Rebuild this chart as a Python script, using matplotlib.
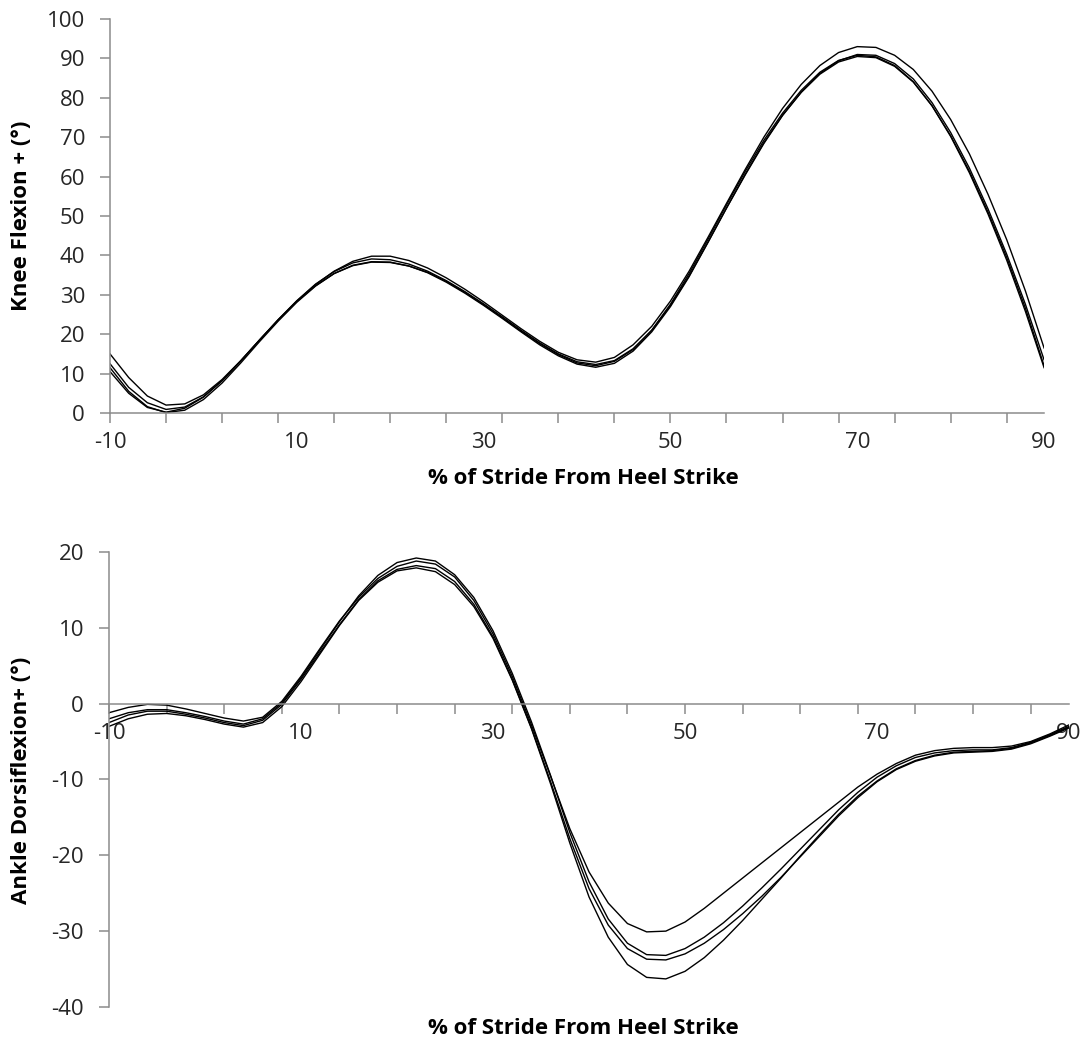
import numpy as np
import matplotlib
matplotlib.use("Agg")
import matplotlib.pyplot as plt

plt.rcParams['font.family'] = ['Open Sans', 'DejaVu Sans']
plt.rcParams['axes.unicode_minus'] = False

# % of stride, sampled every 2 %
stride = list(range(-10, 91, 2))

# knee flexion (deg), four trials
knee_1 = [15, 9, 4.3, 2.0, 2.3, 4.6, 8.5, 13.3, 18.5, 23.6, 28.4, 32.6, 36, 38.5, 39.8, 39.8, 38.7, 36.8, 34.3,
          31.4, 28.2, 24.8, 21.4, 18.2, 15.4, 13.5, 12.9, 14.1, 17.3, 22, 28.4, 36, 44.5, 53.2, 61.8, 70, 77.3,
          83.4, 88.2, 91.5, 93, 92.8, 90.8, 87.2, 81.7, 74.5, 65.8, 55.5, 44, 31, 16.5]
knee_2 = [12.5, 6.5, 2.6, 0.9, 1.5, 4.1, 8.2, 13.2, 18.5, 23.7, 28.5, 32.7, 35.9, 38.1, 39.1, 38.9, 37.8, 36,
          33.6, 30.8, 27.7, 24.4, 21, 17.8, 15, 13, 12.3, 13.3, 16.3, 21, 27.3, 34.8, 43.3, 52, 60.4, 68.4,
          75.5, 81.4, 86.2, 89.4, 91, 90.8, 88.7, 84.8, 78.8, 71.2, 62.2, 51.8, 40.3, 27.6, 13.5]
knee_3 = [11.5, 5.5, 1.6, 0.1, 0.7, 3.4, 7.6, 12.7, 18.1, 23.3, 28.1, 32.2, 35.4, 37.5, 38.4, 38.3, 37.3, 35.6,
          33.2, 30.4, 27.3, 24, 20.6, 17.3, 14.5, 12.4, 11.6, 12.6, 15.7, 20.6, 27, 34.6, 43.2, 52, 60.6, 68.6,
          75.6, 81.4, 86, 89.1, 90.5, 90.2, 88, 84, 78, 70.4, 61.4, 51, 39.5, 26.6, 12]
knee_4 = [10.5, 5, 1.4, 0.2, 1.2, 4, 8.2, 13.2, 18.5, 23.6, 28.3, 32.3, 35.4, 37.4, 38.3, 38.2, 37.3, 35.7,
          33.4, 30.6, 27.5, 24.2, 20.8, 17.6, 14.8, 12.7, 12, 13.1, 16.1, 21, 27.6, 35.4, 44, 52.8, 61.3, 69.2,
          76.1, 81.9, 86.5, 89.5, 90.8, 90.4, 88.2, 84.1, 78, 70.2, 61, 50.5, 38.8, 25.8, 11.5]

# ankle dorsiflexion (deg), four trials
ankle_1 = [-1.2, -0.5, -0.1, -0.2, -0.7, -1.3, -1.9, -2.3, -1.8, 0.3, 3.6, 7.3, 10.9, 14, 16.5, 18.1, 18.8, 18.4,
           16.7, 13.6, 9.2, 3.6, -2.8, -9.6, -16.5, -22.2, -26.3, -29, -30.1, -30, -28.8, -27, -25, -23, -21,
           -19, -17, -15, -13, -11, -9.3, -7.9, -6.8, -6.2, -5.9, -5.8, -5.8, -5.6, -5, -4, -2.8]
ankle_2 = [-2, -1.2, -0.8, -0.8, -1.2, -1.7, -2.3, -2.7, -2, 0.1, 3.4, 7.1, 10.8, 14.2, 16.9, 18.6, 19.2, 18.8,
           17, 14, 9.6, 4, -2.4, -9.5, -17, -23.5, -28.4, -31.6, -33.1, -33.2, -32.3, -30.8, -28.9, -26.7,
           -24.3, -21.8, -19.2, -16.6, -14, -11.7, -9.7, -8.2, -7.1, -6.5, -6.2, -6.1, -6.1, -5.8, -5.1, -4.1, -3]
ankle_3 = [-2.5, -1.5, -1, -1, -1.4, -1.9, -2.5, -2.9, -2.2, -0.1, 3.2, 6.8, 10.4, 13.7, 16.2, 17.7, 18.2, 17.8,
           16.1, 13.1, 8.8, 3.2, -3.2, -10.3, -17.8, -24.4, -29.2, -32.3, -33.7, -33.8, -33, -31.6, -29.8,
           -27.7, -25.4, -22.9, -20.2, -17.5, -14.8, -12.4, -10.3, -8.7, -7.6, -6.9, -6.5, -6.4, -6.3, -6,
           -5.3, -4.3, -3.2]
ankle_4 = [-3, -2, -1.4, -1.3, -1.6, -2.1, -2.7, -3.1, -2.5, -0.4, 2.9, 6.6, 10.3, 13.6, 16, 17.5, 17.9, 17.4,
           15.7, 12.8, 8.6, 3.1, -3.3, -10.6, -18.4, -25.5, -30.8, -34.4, -36.1, -36.3, -35.3, -33.5, -31.2,
           -28.6, -25.8, -23, -20.1, -17.3, -14.6, -12.2, -10.2, -8.6, -7.5, -6.8, -6.4, -6.3, -6.2, -5.9,
           -5.2, -4.2, -3.1]

x_labels = [-10, 10, 30, 50, 70, 90]
x_marks = list(range(-10, 91, 6))
knee_yticks = list(range(0, 101, 10))
ankle_yticks = list(range(-40, 21, 10))

axis_grey = '#8c8c8c'
text_col = '#262626'

fig = plt.figure(figsize=(10.87, 10.41), dpi=100)
ax1 = fig.add_axes([0.1012, 0.6033, 0.8593, 0.3784])
ax2 = fig.add_axes([0.1003, 0.0327, 0.8832, 0.4371])


def style(ax):
    for s in ['top', 'right']:
        ax.spines[s].set_visible(False)
    for s in ['left', 'bottom']:
        ax.spines[s].set_color(axis_grey)
        ax.spines[s].set_linewidth(1.1)
    ax.set_xlim(-10, 90)
    # tick marks every 6 %, labels every 20 %
    ax.set_xticks(x_marks)
    ax.set_xticklabels([])
    ax.set_xticks(x_labels, minor=True)
    ax.set_xticklabels([str(v) for v in x_labels], minor=True)
    ax.xaxis.remove_overlapping_locs = False
    ax.tick_params(axis='x', which='major', direction='out', length=7, width=1.1, color=axis_grey)
    ax.tick_params(axis='x', which='minor', length=0, pad=14, labelsize=16, labelcolor=text_col)
    ax.tick_params(axis='y', direction='out', length=7, width=1.1, color=axis_grey,
                   pad=11, labelsize=16, labelcolor=text_col)


for k in [knee_1, knee_2, knee_3, knee_4]:
    ax1.plot(stride, k, color='black', lw=1.0)
style(ax1)
ax1.set_ylim(0, 100)
ax1.set_yticks(knee_yticks)

for a in [ankle_1, ankle_2, ankle_3, ankle_4]:
    ax2.plot(stride, a, color='black', lw=1.0)
style(ax2)
ax2.set_ylim(-40, 20)
ax2.set_yticks(ankle_yticks)
ax2.spines['bottom'].set_position(('data', 0))

lab_kw = dict(fontsize=16, fontweight='bold', color='black', va='center')
fig.text(583 / 1087, 1 - 478 / 1041, '% of Stride From Heel Strike', ha='center', **lab_kw)
fig.text(583 / 1087, 1 - 1028 / 1041, '% of Stride From Heel Strike', ha='center', **lab_kw)
fig.text(22 / 1087, 1 - 216 / 1041, 'Knee Flexion + (°)', rotation=90, ha='center', **lab_kw)
fig.text(22 / 1087, 1 - 780 / 1041, 'Ankle Dorsiflexion+ (°)', rotation=90, ha='center', **lab_kw)

fig.savefig('out.png', dpi=100, facecolor='white')
